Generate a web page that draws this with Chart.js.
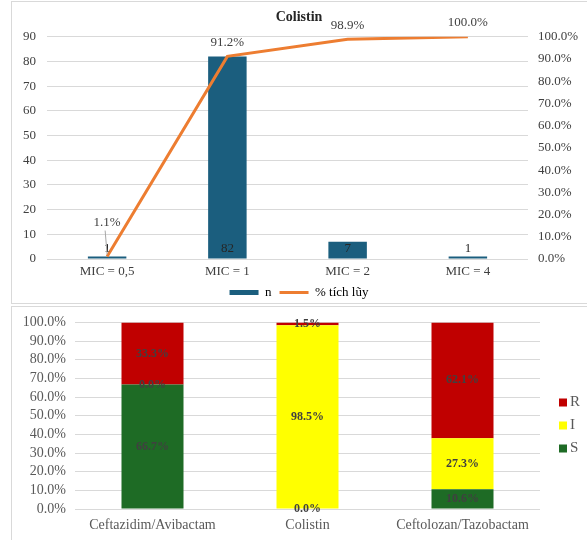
<!DOCTYPE html>
<html>
<head>
<meta charset="utf-8">
<script src="https://cdn.jsdelivr.net/npm/chart.js@4/dist/chart.umd.min.js"></script>
<style>
  body { margin: 0; background: #fff; width: 587px; height: 540px; overflow: hidden; position: relative; }
  .khung { position: absolute; border: 1px solid #d9d9d9; box-sizing: border-box; }
  canvas { position: absolute; }
</style>
</head>
<body>
<div class="khung" style="left:11px; top:1px; width:600px; height:303px;"></div>
<div class="khung" style="left:11px; top:306px; width:600px; height:260px;"></div>
<canvas id="bieu_do_mic" width="576" height="300" style="left:11px; top:2px;"></canvas>
<canvas id="bieu_do_ty_le" width="576" height="235" style="left:11px; top:305px;"></canvas>
<script>
// Biểu đồ 1 - phân bố MIC của Colistin
const nhom_mic = ['MIC = 0,5', 'MIC = 1', 'MIC = 2', 'MIC = 4'];
const so_luong = [1, 82, 7, 1];                 // n
const tich_luy = [1.1, 91.2, 98.9, 100.0];      // % tích lũy

// Biểu đồ 2 - tỷ lệ S / I / R
const khang_sinh = ['Ceftazidim/Avibactam', 'Colistin', 'Ceftolozan/Tazobactam'];
const ty_le_S = [66.7, 0.0, 10.6];
const ty_le_I = [0.0, 98.5, 27.3];
const ty_le_R = [33.3, 1.5, 62.1];

const FONT = '"Liberation Serif", "Times New Roman", serif';
const XANH = '#1b5e7e', CAM = '#ed7d31';

// nhãn dữ liệu cho biểu đồ 1
const nhanMic = {
    id: 'nhanMic',
    afterDatasetsDraw(chart) {
        const ctx = chart.ctx;
        ctx.save();
        ctx.textAlign = 'center';
        ctx.textBaseline = 'middle';
        ctx.font = '13px ' + FONT;
        // giá trị cột, đặt gần chân cột
        chart.getDatasetMeta(0).data.forEach((bar, i) => {
            ctx.fillStyle = '#262626';
            ctx.fillText(so_luong[i], bar.x, bar.base - 10);
        });
        // % tích lũy trên đường
        chart.getDatasetMeta(1).data.forEach((pt, i) => {
            const lift = i === 0 ? 34 : 14;
            if (lift > 20) {
                ctx.strokeStyle = '#a6a6a6';
                ctx.lineWidth = 1;
                ctx.beginPath();
                ctx.moveTo(pt.x - 2, pt.y - lift + 8);
                ctx.lineTo(pt.x, pt.y - 2);
                ctx.stroke();
            }
            ctx.fillStyle = '#404040';
            ctx.fillText(tich_luy[i].toFixed(1) + '%', pt.x, pt.y - lift);
        });
        ctx.restore();
    }
};

new Chart(document.getElementById('bieu_do_mic').getContext('2d'), {
    data: {
        labels: nhom_mic,
        datasets: [{
            type: 'bar',
            label: 'n',
            data: so_luong,
            backgroundColor: XANH,
            yAxisID: 'y',
            barPercentage: 0.32,
            categoryPercentage: 1,
            order: 2
        }, {
            type: 'line',
            label: '% tích lũy',
            data: tich_luy,
            borderColor: CAM,
            borderWidth: 3,
            pointRadius: 0,
            tension: 0,
            yAxisID: 'y1',
            order: 1
        }]
    },
    options: {
        responsive: false,
        animation: false,
        layout: { padding: 0 },
        scales: {
            x: {
                grid: { display: false, drawTicks: false },
                border: { display: false },
                ticks: { color: '#404040', font: { family: FONT, size: 13 }, padding: 5 },
                afterFit(s) { s.height = 19; }
            },
            y: {
                position: 'left',
                min: 0, max: 90,
                ticks: { stepSize: 10, autoSkip: false, color: '#404040', font: { family: FONT, size: 13 }, padding: 11 },
                grid: { color: '#d9d9d9', drawTicks: false },
                border: { display: false },
                afterFit(s) { s.width = 36; }
            },
            y1: {
                position: 'right',
                min: 0, max: 100,
                ticks: { stepSize: 10, autoSkip: false, color: '#404040', font: { family: FONT, size: 13 }, padding: 10,
                    callback: v => v.toFixed(1) + '%' },
                grid: { display: false, drawTicks: false },
                border: { display: false },
                afterFit(s) { s.width = 59; }
            }
        },
        plugins: {
            title: {
                display: true,
                text: 'Colistin',
                color: '#262626',
                font: { family: FONT, size: 14, weight: 'bold' },
                padding: { top: 7, bottom: 11 }
            },
            legend: {
                position: 'bottom',
                maxHeight: 24,
                labels: {
                    usePointStyle: true,
                    pointStyleWidth: 29,
                    boxHeight: 5,
                    padding: 8,
                    color: '#404040',
                    font: { family: FONT, size: 13 },
                    generateLabels: () => [
                        { text: 'n', fillStyle: XANH, strokeStyle: XANH, lineWidth: 0, pointStyle: 'rect', datasetIndex: 0 },
                        { text: '% tích lũy', fillStyle: CAM, strokeStyle: CAM, lineWidth: 3, pointStyle: 'line', datasetIndex: 1 }
                    ]
                }
            },
            tooltip: { enabled: false }
        }
    },
    plugins: [nhanMic]
});

// nhãn % trong từng đoạn cột chồng + chú thích bên phải
const nhanTyLe = {
    id: 'nhanTyLe',
    afterDatasetsDraw(chart) {
        const ctx = chart.ctx;
        ctx.save();
        ctx.textAlign = 'center';
        ctx.textBaseline = 'middle';
        ctx.font = 'bold 12px ' + FONT;
        ctx.fillStyle = '#404040';
        chart.data.datasets.forEach((ds, d) => {
            chart.getDatasetMeta(d).data.forEach((bar, i) => {
                const yc = (bar.y + bar.base) / 2;
                ctx.fillText(ds.data[i].toFixed(1) + '%', bar.x, yc);
            });
        });
        // chú thích R, I, S
        const muc = [2, 1, 0];
        const x0 = chart.chartArea.right + 19;
        const yMid = chart.height / 2 + 3;
        ctx.textAlign = 'left';
        ctx.font = '15px ' + FONT;
        muc.forEach((d, k) => {
            const ds = chart.data.datasets[d];
            const y = yMid + (k - 1) * 23;
            ctx.fillStyle = ds.backgroundColor;
            ctx.fillRect(x0, y - 4, 8, 8);
            ctx.fillStyle = '#595959';
            ctx.fillText(ds.label, x0 + 11, y);
        });
        ctx.restore();
    }
};

new Chart(document.getElementById('bieu_do_ty_le').getContext('2d'), {
    type: 'bar',
    data: {
        labels: khang_sinh,
        datasets: [
            { label: 'S', data: ty_le_S, backgroundColor: '#1e6b25' },
            { label: 'I', data: ty_le_I, backgroundColor: '#ffff00' },
            { label: 'R', data: ty_le_R, backgroundColor: '#c00000' }
        ]
    },
    options: {
        responsive: false,
        animation: false,
        layout: { padding: { top: 12, right: 47, left: 0, bottom: 0 } },
        datasets: { bar: { barPercentage: 0.4, categoryPercentage: 1 } },
        scales: {
            x: {
                stacked: true,
                grid: { display: false, drawTicks: false },
                border: { display: false },
                ticks: { color: '#595959', font: { family: FONT, size: 14 }, padding: 8 },
                afterFit(s) { s.height = 31; }
            },
            y: {
                stacked: true,
                min: 0, max: 100,
                ticks: { stepSize: 10, autoSkip: false, color: '#595959', font: { family: FONT, size: 14 }, padding: 9,
                    callback: v => v.toFixed(1) + '%' },
                grid: { color: '#d9d9d9', drawTicks: false },
                border: { display: false },
                afterFit(s) { s.width = 64; }
            }
        },
        plugins: {
            legend: { display: false },
            tooltip: { enabled: false }
        }
    },
    plugins: [nhanTyLe]
});
</script>
</body>
</html>
